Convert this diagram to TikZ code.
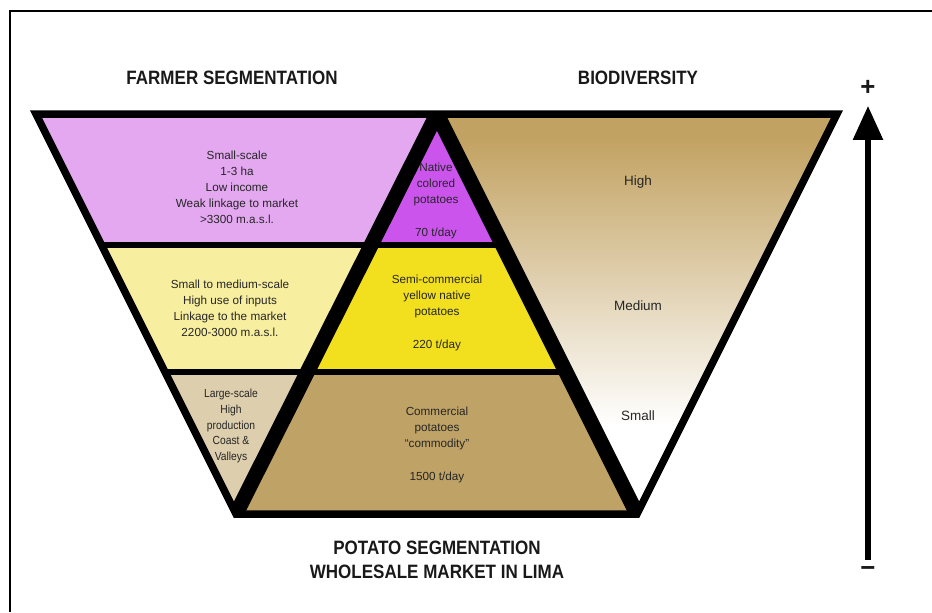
\documentclass[tikz,border=0pt]{standalone}
\usepackage{fontspec}
\setmainfont{Liberation Sans}
\newfontfamily\headfont[FakeStretch=0.88]{Liberation Sans}
\usetikzlibrary{arrows.meta, calc}

\definecolor{farmpurple}{HTML}{E3A8F0}
\definecolor{farmyellow}{HTML}{F7EEA0}
\definecolor{farmbeige}{HTML}{DDCEAD}
\definecolor{potpurple}{HTML}{CB55EC}
\definecolor{potyellow}{HTML}{F2E01E}
\definecolor{potbrown}{HTML}{BFA265}
\definecolor{biotan}{HTML}{C2A262}

\pgfdeclareverticalshading{biofade}{100bp}{color(0bp)=(white); color(36bp)=(white); color(72bp)=(biotan); color(100bp)=(biotan)}

\begin{document}
\begin{tikzpicture}[
    x=0.03cm, y=-0.03cm,
    seg/.style={font=\fontsize{10}{13.6}\selectfont, align=center, text=black!85},
    level/.style={font=\fontsize{11.5}{14}\selectfont, text=black!85},
    head/.style={font=\headfont\bfseries\fontsize{16.5}{21}\selectfont, align=center, text=black!90},
    sign/.style={font=\bfseries\fontsize{22}{22}\selectfont, text=black!90},
    outline/.style={line width=6.4pt, line join=miter},
    wall/.style={line width=12.8pt},
    divider/.style={line width=4.3pt},
    bigarrow/.style={-{Triangle[width=25pt, length=29pt]}, line width=4.3pt}
]
    \useasboundingbox (0,0) rectangle (932,612);

    % Frame
    \draw[line width=2.5pt] (10,612) -- (10,11) -- (932,11);

    % Corners of the inverted trapezoid and the pyramid
    \coordinate (tl) at (36,114);
    \coordinate (apex) at (437,114);
    \coordinate (tr) at (837,114);
    \coordinate (bl) at (236,514);
    \coordinate (br) at (637,514);
    \coordinate (l1) at ($(tl)!0.3275!(bl)$);
    \coordinate (l2) at ($(tl)!0.645!(bl)$);
    \coordinate (pl1) at ($(apex)!0.3275!(bl)$);
    \coordinate (pl2) at ($(apex)!0.645!(bl)$);
    \coordinate (pr1) at ($(apex)!0.3275!(br)$);
    \coordinate (pr2) at ($(apex)!0.645!(br)$);

    % Farmer segments
    \fill[farmpurple] (tl) -- (apex) -- (pl1) -- (l1) -- cycle;
    \fill[farmyellow] (l1) -- (pl1) -- (pl2) -- (l2) -- cycle;
    \fill[farmbeige] (l2) -- (pl2) -- (bl) -- cycle;

    % Potato segments
    \fill[potpurple] (apex) -- (pr1) -- (pl1) -- cycle;
    \fill[potyellow] (pl1) -- (pr1) -- (pr2) -- (pl2) -- cycle;
    \fill[potbrown] (pl2) -- (pr2) -- (br) -- (bl) -- cycle;

    % Biodiversity
    \shade[shading=biofade] (apex) -- (tr) -- (br) -- cycle;

    % Black lines
    \draw[divider] (l1) -- (pr1);
    \draw[divider] (l2) -- (pr2);
    \begin{scope}
        \clip (tl) -- (tr) -- (br) -- (bl) -- cycle;
        \draw[wall] (bl) -- (apex) -- (br);
    \end{scope}
    \draw[outline] (tl) -- (tr) -- (br) -- (bl) -- cycle;

    % Texts
    \node[seg] (smallscale) at (237,187) {Small-scale\\1-3 ha\\Low income\\Weak linkage to market\\>3300 m.a.s.l.};
    \node[seg] (medscale) at (230,308) {Small to medium-scale\\High use of inputs\\Linkage to the market\\2200-3000 m.a.s.l.};
    \node[seg, font=\headfont\fontsize{10}{13.6}\selectfont] (largescale) at (231,426) {Large-scale\\High\\production\\Coast \&\\Valleys};
    \node[seg] (native) at (436,201) {Native\\colored\\potatoes\\[14pt]70 t/day};
    \node[seg] (semi) at (437,313) {Semi-commercial\\yellow native\\potatoes\\[14pt]220 t/day};
    \node[seg] (commercial) at (437,445) {Commercial\\potatoes\\``commodity''\\[15pt]1500 t/day};
    \node[level] (high) at (638,182) {High};
    \node[level] (medium) at (638,306) {Medium};
    \node[level] (small) at (638,416) {Small};

    % Headings
    \node[head] (farmerhead) at (232,78) {FARMER SEGMENTATION};
    \node[head] (biohead) at (638,78) {BIODIVERSITY};
    \node[head] (potatohead) at (437,560) {POTATO SEGMENTATION\\WHOLESALE MARKET IN LIMA};

    % Scale arrow
    \node[sign] (plus) at (868,88) {+};
    \node[sign] (minus) at (868,571) {\textminus};
    \coordinate (low) at (868,560);
    \coordinate (high) at (868,106);
    \draw[bigarrow] (low) -- (high);
\end{tikzpicture}
\end{document}
